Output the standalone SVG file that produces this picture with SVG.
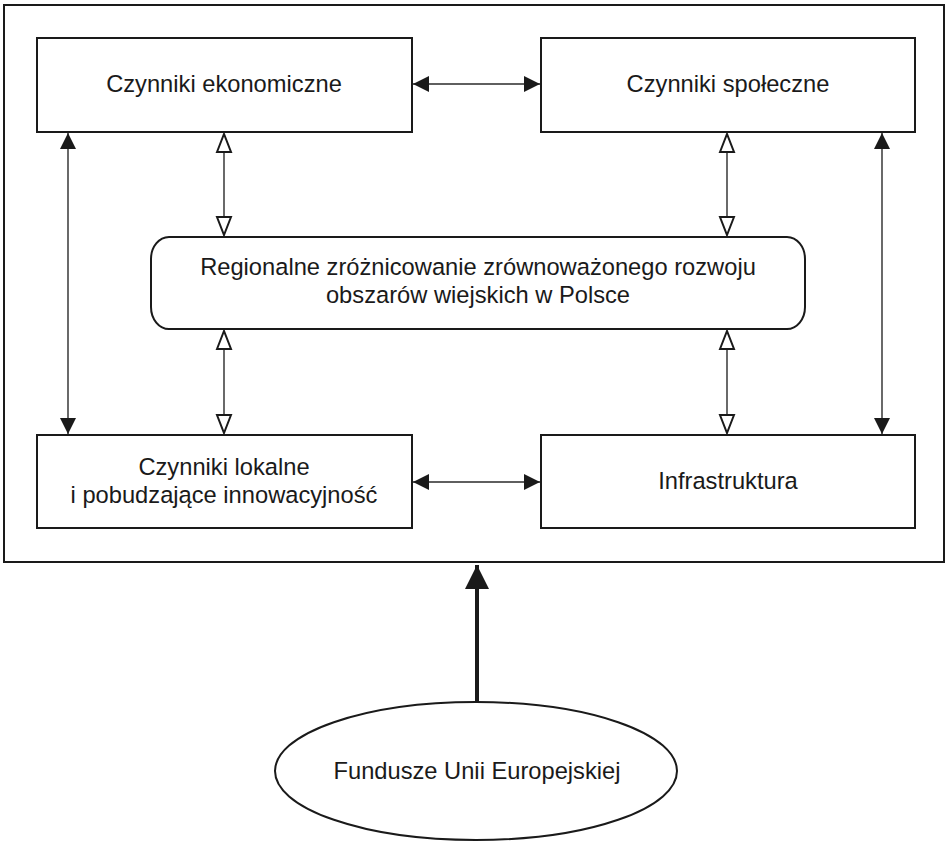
<svg xmlns="http://www.w3.org/2000/svg" width="946" height="842" viewBox="0 0 946 842">
<style>
.box{fill:#fff;stroke:#1a1a1a;stroke-width:2}
.t{font-family:"Liberation Sans",Arial,sans-serif;font-size:23.7px;fill:#1a1a1a;text-anchor:middle}
.c{stroke:#2a2a2a;stroke-width:1.4;fill:none}
</style>
<defs>
<marker id="f" markerUnits="userSpaceOnUse" markerWidth="16" markerHeight="16" refX="16" refY="8" orient="auto-start-reverse" overflow="visible">
<path d="M0,0 L16,8 L0,16 Z" fill="#1a1a1a"/>
</marker>
<marker id="h" markerUnits="userSpaceOnUse" markerWidth="20" markerHeight="16" refX="19" refY="7" orient="auto-start-reverse" overflow="visible">
<path d="M1,0 L19,7 L1,14 Z" fill="#fff" stroke="#1a1a1a" stroke-width="2" stroke-linejoin="miter"/>
</marker>
<marker id="b" markerUnits="userSpaceOnUse" markerWidth="24" markerHeight="24" refX="24" refY="12" orient="auto" overflow="visible">
<path d="M0,0 L24,12 L0,24 Z" fill="#1a1a1a"/>
</marker>
</defs>
<rect id="frame" x="4" y="5" width="940" height="557" fill="none" stroke="#1a1a1a" stroke-width="2"/>
<g id="connectors">
<line class="c" x1="413" y1="84" x2="540" y2="84" marker-start="url(#f)" marker-end="url(#f)"/>
<line class="c" x1="413" y1="482" x2="540" y2="482" marker-start="url(#f)" marker-end="url(#f)"/>
<line class="c" x1="68" y1="133" x2="68" y2="434" marker-start="url(#f)" marker-end="url(#f)"/>
<line class="c" x1="882" y1="133" x2="882" y2="434" marker-start="url(#f)" marker-end="url(#f)"/>
<line class="c" x1="224" y1="134" x2="224" y2="235" marker-start="url(#h)" marker-end="url(#h)"/>
<line class="c" x1="727" y1="134" x2="727" y2="235" marker-start="url(#h)" marker-end="url(#h)"/>
<line class="c" x1="224" y1="331" x2="224" y2="433" marker-start="url(#h)" marker-end="url(#h)"/>
<line class="c" x1="727" y1="331" x2="727" y2="433" marker-start="url(#h)" marker-end="url(#h)"/>
<line x1="477" y1="702" x2="477" y2="565" stroke="#1a1a1a" stroke-width="4" marker-end="url(#b)"/>
</g>
<g id="n-ekonomiczne">
<rect class="box" x="37" y="38" width="375" height="94"/>
<text class="t" x="224" y="92">Czynniki ekonomiczne</text>
</g>
<g id="n-spoleczne">
<rect class="box" x="541" y="38" width="374" height="94"/>
<text class="t" x="728" y="92">Czynniki społeczne</text>
</g>
<g id="n-regionalne">
<rect class="box" x="151" y="237" width="654" height="92" rx="18" ry="22"/>
<text class="t" x="478" y="275">Regionalne zróżnicowanie zrównoważonego rozwoju</text>
<text class="t" x="478" y="303">obszarów wiejskich w Polsce</text>
</g>
<g id="n-lokalne">
<rect class="box" x="37" y="435" width="375" height="93"/>
<text class="t" x="224" y="475">Czynniki lokalne</text>
<text class="t" x="224" y="503">i pobudzające innowacyjność</text>
</g>
<g id="n-infrastruktura">
<rect class="box" x="541" y="435" width="374" height="93"/>
<text class="t" x="728" y="489">Infrastruktura</text>
</g>
<g id="n-fundusze">
<ellipse class="box" cx="476" cy="771" rx="201" ry="69"/>
<text class="t" x="477" y="779">Fundusze Unii Europejskiej</text>
</g>
</svg>
